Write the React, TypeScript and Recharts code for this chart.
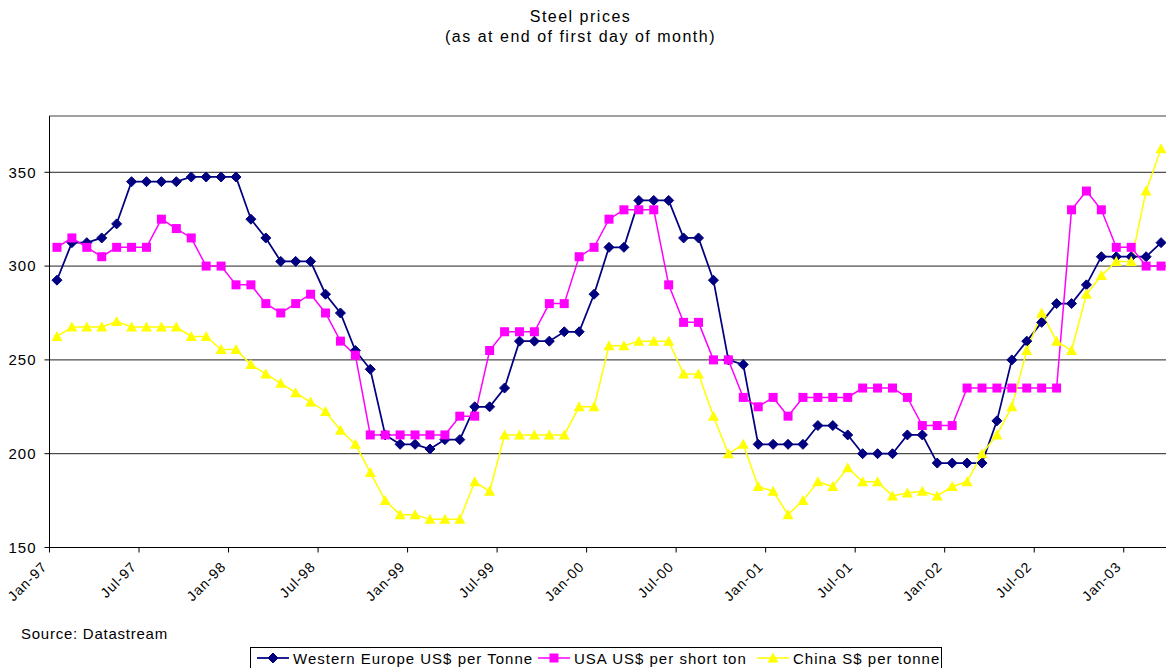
import React from "react";
import { LineChart, Line, XAxis, YAxis, CartesianGrid, ReferenceLine } from "recharts";

const months = [
  "Jan-97", "Feb-97", "Mar-97", "Apr-97", "May-97", "Jun-97", "Jul-97", "Aug-97", "Sep-97", "Oct-97", "Nov-97", "Dec-97",
  "Jan-98", "Feb-98", "Mar-98", "Apr-98", "May-98", "Jun-98", "Jul-98", "Aug-98", "Sep-98", "Oct-98", "Nov-98", "Dec-98",
  "Jan-99", "Feb-99", "Mar-99", "Apr-99", "May-99", "Jun-99", "Jul-99", "Aug-99", "Sep-99", "Oct-99", "Nov-99", "Dec-99",
  "Jan-00", "Feb-00", "Mar-00", "Apr-00", "May-00", "Jun-00", "Jul-00", "Aug-00", "Sep-00", "Oct-00", "Nov-00", "Dec-00",
  "Jan-01", "Feb-01", "Mar-01", "Apr-01", "May-01", "Jun-01", "Jul-01", "Aug-01", "Sep-01", "Oct-01", "Nov-01", "Dec-01",
  "Jan-02", "Feb-02", "Mar-02", "Apr-02", "May-02", "Jun-02", "Jul-02", "Aug-02", "Sep-02", "Oct-02", "Nov-02", "Dec-02",
  "Jan-03", "Feb-03", "Mar-03",
];

const westernEurope = [
  292.5, 312.5, 312.5, 315, 322.5, 345, 345, 345, 345, 347.5, 347.5, 347.5,
  347.5, 325, 315, 302.5, 302.5, 302.5, 285, 275, 255, 245, 210, 205,
  205, 202.5, 207.5, 207.5, 225, 225, 235, 260, 260, 260, 265, 265,
  285, 310, 310, 335, 335, 335, 315, 315, 292.5, 250, 247.5, 205,
  205, 205, 205, 215, 215, 210, 200, 200, 200, 210, 210, 195,
  195, 195, 195, 217.5, 250, 260, 270, 280, 280, 290, 305, 305,
  305, 305, 312.5,
];

const usaShortTon = [
  310, 315, 310, 305, 310, 310, 310, 325, 320, 315, 300, 300,
  290, 290, 280, 275, 280, 285, 275, 260, 252.5, 210, 210, 210,
  210, 210, 210, 220, 220, 255, 265, 265, 265, 280, 280, 305,
  310, 325, 330, 330, 330, 290, 270, 270, 250, 250, 230, 225,
  230, 220, 230, 230, 230, 230, 235, 235, 235, 230, 215, 215,
  215, 235, 235, 235, 235, 235, 235, 235, 330, 340, 330, 310,
  310, 300, 300,
];

const chinaTonne = [
  262.5, 267.5, 267.5, 267.5, 270.5, 267.5, 267.5, 267.5, 267.5, 262.5, 262.5, 255.5,
  255.5, 247.5, 242.5, 237.5, 232.5, 227.5, 222.5, 212.5, 205, 190, 175, 167.5,
  167.5, 165, 165, 165, 185, 180, 210, 210, 210, 210, 210, 225,
  225, 257.5, 257.5, 260, 260, 260, 242.5, 242.5, 220, 200, 205, 182.5,
  180, 167.5, 175, 185, 182.5, 192.5, 185, 185, 177.5, 179, 180, 177.5,
  182.5, 185, 200, 210, 225, 255, 275, 260, 255, 285, 295, 302.5,
  302.5, 340, 362.5,
];

const tickLabels = [
  "Jan-97", "Jul-97", "Jan-98", "Jul-98", "Jan-99", "Jul-99", "Jan-00",
  "Jul-00", "Jan-01", "Jul-01", "Jan-02", "Jul-02", "Jan-03",
];
const yTicks = [150, 200, 250, 300, 350];

const series = [
  { key: "we", name: "Western Europe US$ per Tonne", color: "#000080", width: 1.75, marker: "diamond" },
  { key: "usa", name: "USA US$ per short ton", color: "#FF00FF", width: 1.5, marker: "square" },
  { key: "china", name: "China S$ per tonne", color: "#FFFF00", width: 1.5, marker: "triangle" },
];

// each month sits in the middle of its slot, ticks fall on slot boundaries (Excel style)
const data = months.map((m, i) => ({
  month: m,
  x: i + 0.5,
  we: westernEurope[i],
  usa: usaShortTon[i],
  china: chinaTonne[i],
}));

const xTicks = tickLabels.map((l) => months.indexOf(l));

function Marker({ type, cx, cy, color }: { type: string; cx: number; cy: number; color: string }) {
  if (type === "diamond") {
    return <polygon points={`${cx},${cy - 5} ${cx + 5},${cy} ${cx},${cy + 5} ${cx - 5},${cy}`} fill={color} stroke={color} />;
  }
  if (type === "square") {
    return <rect x={cx - 4.5} y={cy - 4.5} width={9} height={9} fill={color} />;
  }
  return <polygon points={`${cx},${cy - 5.5} ${cx + 5.5},${cy + 4.5} ${cx - 5.5},${cy + 4.5}`} fill={color} />;
}

function makeDot(type: string, color: string) {
  return (props: any) => {
    const { cx, cy, index } = props;
    if (cx == null || cy == null) return <g key={`n-${index}`} />;
    return (
      <g key={`${type}-${index}`}>
        <Marker type={type} cx={cx} cy={cy} color={color} />
      </g>
    );
  };
}

function XTick({ x, y, payload }: any) {
  const ax = x - 1.5;
  const ay = y + 13;
  return (
    <text
      x={ax}
      y={ay}
      transform={`rotate(-45 ${ax} ${ay})`}
      textAnchor="end"
      fontSize={14}
      letterSpacing={1}
      fill="#000"
    >
      {months[payload.value]}
    </text>
  );
}

const legendPos = [
  { sym: 257, text: 293 },
  { sym: 538, text: 574 },
  { sym: 757, text: 793 },
];

export default function App() {
  return (
    <div
      style={{
        position: "fixed",
        left: 0,
        top: 0,
        width: 1166,
        height: 668,
        overflow: "hidden",
        background: "#fff",
        color: "#000",
        fontFamily: '"Liberation Sans", Arial, sans-serif',
      }}
    >
      <div
        style={{
          position: "absolute",
          left: 0,
          top: 7,
          width: 1161,
          textAlign: "center",
          fontSize: 16,
          letterSpacing: 1.5,
          lineHeight: "20px",
        }}
      >
        <div>Steel prices</div>
        <div>(as at end of first day of month)</div>
      </div>

      <div style={{ position: "absolute", left: 0, top: 0 }}>
        <LineChart
          width={1180}
          height={668}
          data={data}
          margin={{ top: 116, right: 11.5, bottom: 80.5, left: 0 }}
        >
          <CartesianGrid vertical={false} stroke="#222" />
          <ReferenceLine y={380} stroke="#a0a0a0" strokeWidth={2} />
          <XAxis
            dataKey="x"
            type="number"
            domain={[0, months.length]}
            ticks={xTicks}
            interval={0}
            height={40}
            tickSize={5}
            axisLine={{ stroke: "#000" }}
            tickLine={{ stroke: "#000" }}
            tick={<XTick />}
          />
          <YAxis
            domain={[150, 380]}
            ticks={yTicks}
            interval={0}
            width={49.5}
            tickSize={5}
            tickMargin={8}
            allowDataOverflow
            axisLine={{ stroke: "#000" }}
            tickLine={{ stroke: "#000" }}
            tick={{ fill: "#000", fontSize: 15, letterSpacing: 1 }}
          />
          {series.map((s) => (
            <Line
              key={s.key}
              dataKey={s.key}
              name={s.name}
              type="linear"
              stroke={s.color}
              strokeWidth={s.width}
              dot={makeDot(s.marker, s.color)}
              activeDot={false}
              isAnimationActive={false}
            />
          ))}
        </LineChart>
      </div>

      <div
        style={{
          position: "absolute",
          left: 21,
          top: 625,
          fontSize: 15,
          letterSpacing: 0.75,
          lineHeight: "18px",
        }}
      >
        Source: Datastream
      </div>

      <div
        style={{
          position: "absolute",
          left: 250,
          top: 647,
          width: 692,
          height: 26,
          border: "1px solid #000",
          boxSizing: "border-box",
        }}
      />
      {series.map((s, i) => (
        <div
          key={s.key}
          style={{
            position: "absolute",
            left: legendPos[i].sym,
            top: 648,
            height: 20,
            display: "flex",
            alignItems: "center",
            fontSize: 15,
            letterSpacing: 1,
            whiteSpace: "nowrap",
          }}
        >
          <svg width={32} height={14} style={{ display: "block" }}>
            <line x1={0} y1={7} x2={32} y2={7} stroke={s.color} strokeWidth={s.width} />
            <Marker type={s.marker} cx={16} cy={7} color={s.color} />
          </svg>
          <span style={{ marginLeft: legendPos[i].text - legendPos[i].sym - 32 }}>{s.name}</span>
        </div>
      ))}
    </div>
  );
}
